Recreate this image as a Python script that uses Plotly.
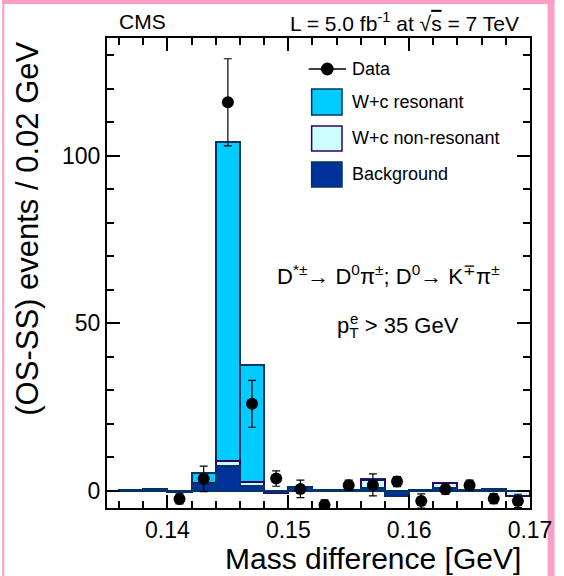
import plotly.graph_objects as go

# ---------------- data ----------------
bin_centers = [0.137, 0.139, 0.141, 0.143, 0.145, 0.147, 0.149, 0.151, 0.153,
               0.155, 0.157, 0.159, 0.161, 0.163, 0.165, 0.167, 0.169]
background = [0.2, 0.6, -0.2, 2.0, 7.4, 1.6, -0.3, 1.1, 0.3,
              0.3, 0.8, -1.6, 0.3, 0.8, 0.2, 0.7, 0.1]
wc_nonres = [0.0, 0.0, 0.0, 0.3, 1.6, 1.2, -0.3, 0.0, 0.0,
             0.0, 2.5, 0.0, 0.1, 1.7, 0.0, 0.0, -1.6]
wc_res = [0.0, 0.0, 0.0, 3.0, 95.1, 34.8, 0.0, 0.2, 0.0,
          0.0, 0.2, 0.0, 0.0, 0.0, 0.0, 0.0, 0.0]

data_x = [0.141, 0.143, 0.145, 0.147, 0.149, 0.151, 0.153, 0.155,
          0.157, 0.159, 0.161, 0.163, 0.165, 0.167, 0.169]
data_y = [-2.4, 3.6, 116.0, 26.0, 3.7, 0.6, -4.2, 1.7,
          1.8, 2.8, -3.0, 0.5, 1.7, -2.3, -3.0]
data_err = [1.5, 3.8, 13.0, 7.0, 2.3, 2.6, 1.5, 1.5,
            3.3, 1.5, 2.1, 1.5, 1.5, 1.5, 2.0]

bin_width = 0.002
x_range = [0.135, 0.17]
y_range = [-5.1, 135.2]

# ---------------- geometry helpers ----------------
W, H = 564, 576
L, R, T, B = 107, 539, 38, 508


def px(x):
    return (x - L) / (R - L)


def py(y):
    return (B - y) / (B - T)


FONT = "Liberation Sans, Arial, Helvetica, sans-serif"
NAVY = "#003366"
PURPLE = "#330066"
RES_C = "#00ccff"
NONRES_C = "#ccffff"
BG_C = "#003399"

cum_bg = background
cum_nr = [b + n for b, n in zip(background, wc_nonres)]
cum_tot = [b + n + r for b, n, r in zip(background, wc_nonres, wc_res)]

fig = go.Figure()
fig.add_bar(x=bin_centers, y=cum_tot, width=bin_width, showlegend=False,
            marker=dict(color=RES_C, line=dict(color=NAVY, width=2)))
fig.add_bar(x=bin_centers, y=cum_nr, width=bin_width, showlegend=False,
            marker=dict(color=NONRES_C, line=dict(color=PURPLE, width=2)))
fig.add_bar(x=bin_centers, y=cum_bg, width=bin_width, showlegend=False,
            marker=dict(color=BG_C, line=dict(color=NAVY, width=2)))
fig.add_scatter(x=data_x, y=data_y, mode="markers", showlegend=False,
                marker=dict(color="black", size=12),
                error_y=dict(type="data", array=data_err, color="black",
                             thickness=1.2, width=4))

axis_common = dict(showgrid=False, zeroline=False, showline=True,
                   linecolor="black", linewidth=2, mirror="ticks",
                   ticks="inside", tickcolor="black", tickwidth=1.5,
                   tickfont=dict(family=FONT, size=23, color="black"))

fig.update_xaxes(range=x_range, tick0=0.14, dtick=0.01, ticklen=13,
                 minor=dict(dtick=0.002, ticklen=7, ticks="inside",
                            tickcolor="black", tickwidth=1.5),
                 **axis_common)
fig.update_yaxes(range=y_range, tick0=0, dtick=50, ticklen=13,
                 minor=dict(dtick=10, ticklen=7, ticks="inside",
                            tickcolor="black", tickwidth=1.5),
                 **axis_common)

shapes = []
annotations = []

# pink border
pink = "#ff9ec4"
for (x0, y0, x1, y1) in [(0, 0, W, 4), (0, 0, 2, H), (W - 7, 0, W, H)]:
    shapes.append(dict(type="rect", xref="paper", yref="paper",
                       x0=px(x0), x1=px(x1), y0=py(y1), y1=py(y0),
                       fillcolor=pink, line=dict(width=0), layer="below"))

# legend (manual)
shapes.append(dict(type="line", xref="paper", yref="paper",
                   x0=px(313), x1=px(351), y0=py(69), y1=py(69),
                   line=dict(color="black", width=1.5)))
shapes.append(dict(type="circle", xref="paper", yref="paper",
                   x0=px(325.5), x1=px(338.5), y0=py(75.5), y1=py(62.5),
                   fillcolor="black", line=dict(color="black", width=0)))
legend_boxes = [
    (89, 115, RES_C, NAVY, "W+c resonant", 102),
    (126, 151, NONRES_C, PURPLE, "W+c non-resonant", 138),
    (162, 187, BG_C, NAVY, "Background", 174),
]
for y0, y1, fc, lc, label, ty in legend_boxes:
    shapes.append(dict(type="rect", xref="paper", yref="paper",
                       x0=px(316), x1=px(347), y0=py(y1), y1=py(y0),
                       fillcolor=fc, line=dict(color=lc, width=1.5)))
    annotations.append(dict(text=label, xref="paper", yref="paper",
                            x=px(355), y=py(ty), xanchor="left", yanchor="middle",
                            showarrow=False,
                            font=dict(family=FONT, size=18, color="black")))
annotations.append(dict(text="Data", xref="paper", yref="paper",
                        x=px(355), y=py(69), xanchor="left", yanchor="middle",
                        showarrow=False,
                        font=dict(family=FONT, size=18, color="black")))

# header texts
annotations.append(dict(text="CMS", xref="paper", yref="paper",
                        x=px(143), y=py(22), xanchor="center", yanchor="middle",
                        showarrow=False,
                        font=dict(family=FONT, size=21, color="black")))
annotations.append(dict(
    text="L = 5.0 fb<sup>-1</sup> at √<span style='text-decoration:overline'>s</span> = 7 TeV",
    xref="paper", yref="paper", x=px(530), y=py(22), xanchor="right",
    yanchor="middle", showarrow=False,
    font=dict(family=FONT, size=21, color="black")))

# physics labels
annotations.append(dict(
    text="D<sup>*±</sup>→ D<sup>0</sup>π<sup>±</sup>; D<sup>0</sup>→ K<sup>∓</sup>π<sup>±</sup>",
    xref="paper", yref="paper", x=px(394), y=py(275), xanchor="center",
    yanchor="middle", showarrow=False,
    font=dict(family=FONT, size=22, color="black")))
annotations.append(dict(
    text="p<sub>T</sub> > 35 GeV",
    xref="paper", yref="paper", x=px(340), y=py(327), xanchor="left",
    yanchor="middle", showarrow=False,
    font=dict(family=FONT, size=22, color="black")))
annotations.append(dict(
    text="e",
    xref="paper", yref="paper", x=px(353.5), y=py(318), xanchor="left",
    yanchor="middle", showarrow=False,
    font=dict(family=FONT, size=15, color="black")))

# axis titles
annotations.append(dict(text="Mass difference [GeV]", xref="paper", yref="paper",
                        x=px(532), y=py(558), xanchor="right", yanchor="middle",
                        showarrow=False,
                        font=dict(family=FONT, size=30, color="black")))
annotations.append(dict(text="(OS-SS) events / 0.02 GeV", xref="paper", yref="paper",
                        x=px(25), y=py(40), xanchor="center", yanchor="top",
                        textangle=-90, showarrow=False,
                        font=dict(family=FONT, size=31, color="black")))

fig.update_layout(
    width=W, height=H, barmode="overlay", bargap=0,
    margin=dict(l=L, r=W - R, t=T, b=H - B),
    paper_bgcolor="white", plot_bgcolor="white",
    shapes=shapes, annotations=annotations, showlegend=False,
)

fig.write_html("out.html")
